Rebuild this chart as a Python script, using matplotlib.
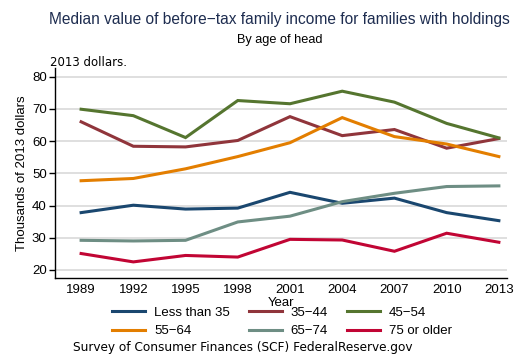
import numpy as np
import matplotlib
matplotlib.use('Agg')
import matplotlib.pyplot as plt

years = [1989, 1992, 1995, 1998, 2001, 2004, 2007, 2010, 2013]
labels = ['Less than 35', '35\u221244', '45\u221254', '55\u221264', '65\u221274', '75 or older']
under35 = [37.8, 40.1, 38.9, 39.2, 44.1, 40.7, 42.3, 37.8, 35.3]
age35_44 = [66.0, 58.4, 58.2, 60.2, 67.6, 61.7, 63.6, 57.8, 60.8]
age45_54 = [69.9, 67.9, 61.1, 72.6, 71.6, 75.5, 72.1, 65.5, 61.0]
age55_64 = [47.7, 48.4, 51.4, 55.2, 59.5, 67.3, 61.4, 59.1, 55.2]
age65_74 = [29.2, 29.0, 29.2, 34.9, 36.7, 41.2, 43.8, 45.9, 46.1]
age75plus = [25.1, 22.5, 24.5, 24.0, 29.5, 29.3, 25.8, 31.4, 28.6]
colors = ['#1a476f', '#90353b', '#55752f', '#e37e00', '#6e8e84', '#c10534']

plt.rcParams['font.family'] = ['Liberation Sans', 'DejaVu Sans']

fig = plt.figure(figsize=(5.27, 3.58), dpi=100)
ax = fig.add_axes([55/527, 1-278/358, (506.7-55)/527, (278-68)/358])

series = [under35, age35_44, age45_54, age55_64, age65_74, age75plus]
for vals, lab, col in zip(series, labels, colors):
    ax.plot(years, vals, color=col, lw=2.2, label=lab, solid_joinstyle='miter')

ax.set_xlim(1987.5, 2013.45)
ax.set_ylim(17.5, 82.7)
ax.set_yticks([20, 30, 40, 50, 60, 70, 80])
ax.set_xticks(years)
ax.grid(axis='y', color='#d9d9d9', lw=1.2)
ax.set_axisbelow(True)
for s in ['top', 'right']:
    ax.spines[s].set_visible(False)
ax.spines['left'].set_linewidth(1.0)
ax.spines['bottom'].set_linewidth(1.0)
ax.tick_params(axis='y', length=4, width=1, labelsize=9.5, pad=2)
ax.tick_params(axis='x', length=0, labelsize=9.5, pad=4)
ax.set_xlabel('Year', fontsize=9.5, labelpad=1)
ax.set_ylabel('Thousands of 2013 dollars', fontsize=9.5, labelpad=3)

fig.text(0.53, 0.945, 'Median value of before\u2212tax family income for families with holdings',
         ha='center', va='center', fontsize=11.2, color='#1e2d50')
fig.text(0.530, 0.888, 'By age of head', ha='center', va='center', fontsize=9.2)
fig.text(50/527, 1-62/358, '2013 dollars.', ha='left', va='center', fontsize=8.5,
         family=['DejaVu Sans'])
fig.text(73/527, 1-348/358, 'Survey of Consumer Finances (SCF) FederalReserve.gov',
         ha='left', va='center', fontsize=8.7, family=['DejaVu Sans'])

handles, labs = ax.get_legend_handles_labels()
order = [0, 3, 1, 4, 2, 5]
fig.legend([handles[i] for i in order], [labs[i] for i in order], ncol=3,
           loc='center', bbox_to_anchor=(0.535, 1-322/358), frameon=False,
           fontsize=9.5, handlelength=2.5, handletextpad=0.7, columnspacing=1.4,
           labelspacing=0.45, borderpad=0)

fig.savefig('out.png', dpi=100)
